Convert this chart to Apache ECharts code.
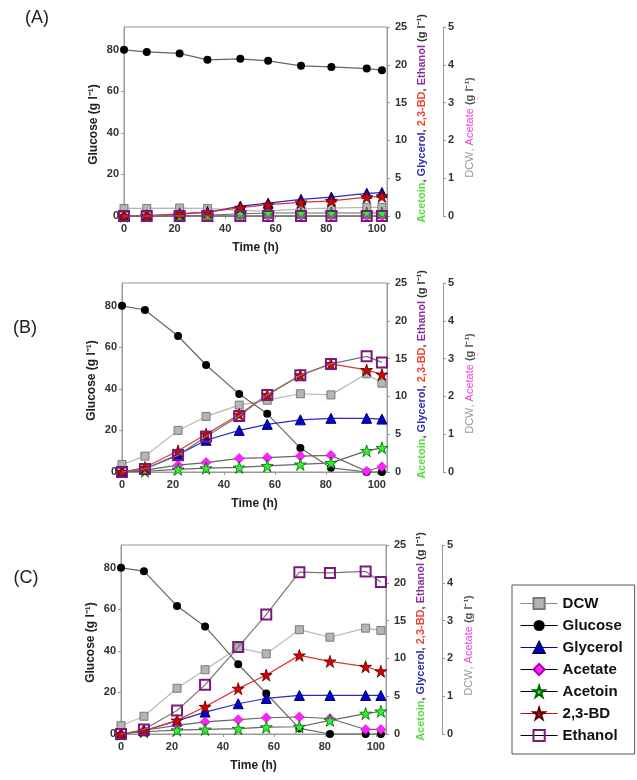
<!DOCTYPE html>
<html>
<head>
<meta charset="utf-8">
<script src="https://cdn.jsdelivr.net/npm/echarts@6/dist/echarts.min.js"></script>
<style>
  html, body { margin: 0; padding: 0; background: #fff; }
  #main { width: 637px; height: 780px; }
</style>
</head>
<body>
<div id="main"></div>
<script>
// 采样时间 (h)
const timeH = [0, 9, 22, 33, 46, 57, 70, 82, 96, 102];
const panelLabels = ['(A)', '(B)', '(C)'];
const seriesNames = ['DCW', 'Glucose', 'Glycerol', 'Acetate', 'Acetoin', '2,3-BD', 'Ethanol'];

// 刻度
const timeTicks = [0, 20, 40, 60, 80, 100];
const glucoseTicks = [0, 20, 40, 60, 80];

// (A)
const dcwA = [0.2, 0.2, 0.21, 0.2, 0.15, 0.13, 0.19, 0.21, 0.23, 0.23];
const glucoseA = [80, 79, 78.3, 75.2, 75.7, 74.7, 72.3, 71.8, 71, 70.2];
const glycerolA = [0, 0, 0.25, 0.5, 1.3, 1.7, 2.2, 2.5, 3.0, 3.1];
const acetateA = [0, 0, 0, 0, 0, 0, 0, 0, 0, 0];
const acetoinA = [0, 0, 0, 0.1, 0.3, 0.4, 0.4, 0.4, 0.4, 0.4];
const bdA = [0, 0.05, 0.3, 0.5, 1.1, 1.5, 1.8, 2.0, 2.5, 2.6];
const ethanolA = [0, 0, 0, 0, 0, 0, 0, 0, 0, 0];

// (B)
const dcwB = [0.2, 0.42, 1.1, 1.47, 1.77, 1.9, 2.07, 2.04, 2.6, 2.35];
const glucoseB = [80, 78, 65.5, 51.5, 37.5, 28, 11.5, 2, 0, 0];
const glycerolB = [0, 0.4, 2.3, 4.2, 5.5, 6.3, 6.9, 7.1, 7.1, 7.0];
const acetateB = [0, 0.05, 0.18, 0.25, 0.36, 0.38, 0.42, 0.44, 0.02, 0.14];
const acetoinB = [0, 0.1, 0.35, 0.5, 0.6, 0.8, 1.0, 1.2, 2.8, 3.2];
const bdB = [0, 0.6, 2.8, 5.0, 7.6, 10.2, 12.8, 14.3, 13.5, 12.9];
const ethanolB = [0, 0.4, 2.2, 4.7, 7.4, 10.2, 12.8, 14.3, 15.3, 14.5];

// (C)
const dcwC = [0.22, 0.47, 1.21, 1.7, 2.28, 2.12, 2.76, 2.56, 2.8, 2.74];
const glucoseC = [80, 78.4, 61.6, 51.8, 33.6, 19.5, 2.7, 0, 0, 0];
const glycerolC = [0, 0.43, 1.74, 2.9, 4.0, 4.7, 5.1, 5.1, 5.1, 5.1];
const acetateC = [0, 0.1, 0.23, 0.32, 0.38, 0.43, 0.45, 0.41, 0.12, 0.12];
const acetoinC = [0, 0.3, 0.5, 0.6, 0.7, 0.9, 0.96, 1.8, 2.7, 3.0];
const bdC = [0, 0.43, 1.8, 3.6, 6.0, 7.8, 10.4, 9.6, 8.9, 8.3];
const ethanolC = [0, 0.6, 3.1, 6.5, 11.5, 15.8, 21.4, 21.3, 21.5, 20.1];

const panelData = [
    [dcwA, glucoseA, glycerolA, acetateA, acetoinA, bdA, ethanolA],
    [dcwB, glucoseB, glycerolB, acetateB, acetoinB, bdB, ethanolB],
    [dcwC, glucoseC, glycerolC, acetateC, acetoinC, bdC, ethanolC]
];

const FONT = '"Liberation Sans", Arial, sans-serif';
const STAR = 'path://M0,-10L2.25,-3.09L9.51,-3.09L3.63,1.18L5.88,8.09L0,3.82L-5.88,8.09L-3.63,1.18L-9.51,-3.09L-2.25,-3.09Z';

// 每个系列的样式: axis 0 = 葡萄糖轴, 1 = 0-25 轴, 2 = 0-5 轴
const styles = {
    'DCW':      { axis: 2, symbol: 'rect', size: 8, fill: '#b5b5b5', border: '#7a7a7a', bw: 1, line: '#b8b8b8', legendLine: '#888' },
    'Glucose':  { axis: 0, symbol: 'circle', size: 8, fill: '#000', border: '#000', bw: 0, line: '#666', legendLine: '#000' },
    'Glycerol': { axis: 1, symbol: 'triangle', size: 10, fill: '#0000d0', border: '#000066', bw: 1, line: '#2a2ac8', legendLine: '#0000d0' },
    'Acetate':  { axis: 2, symbol: 'diamond', size: 10, fill: '#ff22ff', border: '#aa00aa', bw: 0.5, line: '#666', legendLine: '#000' },
    'Acetoin':  { axis: 1, symbol: STAR, size: 12, fill: '#33ee33', border: '#006600', bw: 0.8, line: '#666', legendLine: '#000' },
    '2,3-BD':   { axis: 1, symbol: STAR, size: 12, fill: '#dd0000', border: '#550000', bw: 0.8, line: '#e03333', legendLine: '#e00000' },
    'Ethanol':  { axis: 1, symbol: 'rect', size: 10, fill: 'rgba(255,255,255,0)', border: '#7a1a7a', bw: 2, line: '#777', legendLine: '#000' }
};

const grids = [
    { left: 124, top: 27, width: 263, height: 189 },
    { left: 122, top: 283, width: 265, height: 189 },
    { left: 121, top: 545, width: 265, height: 189 }
];
const labelPos = [[37, 18], [25, 328], [26, 578]];
const glucoseMax = [91, 91, 91];

function initChart() {
    const chart = echarts.init(document.getElementById('main'));
    const xAxes = [];
    const yAxes = [];
    const series = [];
    const graphics = [];

    const tickLabel = { fontFamily: FONT, fontSize: 11, fontWeight: 'bold', color: '#333' };
    const axisLine = { show: true, lineStyle: { color: '#999', width: 1 } };
    const axisTick = { show: true, inside: false, length: 3, lineStyle: { color: '#999' } };

    grids.forEach((g, p) => {
        xAxes.push({
            type: 'value', gridIndex: p, min: 0, max: 104,
            axisLine: axisLine,
            axisTick: Object.assign({ customValues: timeTicks }, axisTick),
            axisLabel: Object.assign({ customValues: timeTicks, margin: 7 }, tickLabel),
            splitLine: { show: false }
        });
        // 葡萄糖
        yAxes.push({
            type: 'value', gridIndex: p, position: 'left', min: 0, max: glucoseMax[p],
            axisLine: axisLine,
            axisTick: Object.assign({ customValues: glucoseTicks }, axisTick),
            axisLabel: Object.assign({ customValues: glucoseTicks, margin: 5 }, tickLabel),
            splitLine: { show: false }
        });
        // Acetoin, Glycerol, 2,3-BD, Ethanol
        yAxes.push({
            type: 'value', gridIndex: p, position: 'right', min: 0, max: 25, interval: 5,
            axisLine: axisLine, axisTick: axisTick,
            axisLabel: Object.assign({ margin: 8 }, tickLabel),
            splitLine: { show: false }
        });
        // DCW, Acetate
        yAxes.push({
            type: 'value', gridIndex: p, position: 'right', offset: 56, min: 0, max: 5, interval: 1,
            axisLine: axisLine, axisTick: axisTick,
            axisLabel: Object.assign({ margin: 5 }, tickLabel),
            splitLine: { show: false }
        });

        seriesNames.forEach((name, i) => {
            const s = styles[name];
            const vals = panelData[p][i];
            series.push({
                name: name,
                type: 'line',
                xAxisIndex: p,
                yAxisIndex: p * 3 + s.axis,
                data: timeH.map((t, k) => [t, vals[k]]),
                symbol: s.symbol,
                symbolSize: s.size,
                showAllSymbol: true,
                clip: false,
                z: 2 + i,
                lineStyle: { color: s.line, width: 1.2 },
                itemStyle: { color: s.fill, borderColor: s.border, borderWidth: s.bw },
                emphasis: { disabled: true }
            });
        });

        const cx = g.left + g.width / 2;
        const cy = g.top + g.height / 2;
        const right = g.left + g.width;

        graphics.push({
            type: 'text', x: labelPos[p][0], y: labelPos[p][1],
            style: { text: panelLabels[p], fontSize: 18, fontFamily: FONT, fill: '#222', align: 'center', verticalAlign: 'middle' }
        });
        graphics.push({
            type: 'text', x: g.left - 30, y: cy + 3, rotation: Math.PI / 2,
            style: { text: 'Glucose (g l⁻¹)', fontSize: 12, fontWeight: 'bold', fontFamily: FONT, fill: '#222', align: 'center', verticalAlign: 'middle' }
        });
        graphics.push({
            type: 'text', x: cx, y: g.top + g.height + 32,
            style: { text: 'Time (h)', fontSize: 12, fontWeight: 'bold', fontFamily: FONT, fill: '#222', align: 'center', verticalAlign: 'middle' }
        });
        graphics.push({
            type: 'text', x: right + 35, y: cy - 3, rotation: Math.PI / 2,
            style: {
                text: '{g|Acetoin}, {b|Glycerol}, {r|2,3-BD}, {p|Ethanol} (g l⁻¹)',
                fontSize: 11, fontWeight: 'bold', fontFamily: FONT, fill: '#333',
                align: 'center', verticalAlign: 'middle',
                rich: {
                    g: { fill: '#55dd44', fontSize: 11, fontWeight: 'bold', fontFamily: FONT },
                    b: { fill: '#2b2ba8', fontSize: 11, fontWeight: 'bold', fontFamily: FONT },
                    r: { fill: '#ee4433', fontSize: 11, fontWeight: 'bold', fontFamily: FONT },
                    p: { fill: '#8a2f9e', fontSize: 11, fontWeight: 'bold', fontFamily: FONT }
                }
            }
        });
        graphics.push({
            type: 'text', x: right + 83, y: cy + 6, rotation: Math.PI / 2,
            style: {
                text: '{d|DCW}, {a|Acetate} {u|(g l⁻¹)}',
                fontSize: 11, fontFamily: FONT, fill: '#999',
                align: 'center', verticalAlign: 'middle',
                rich: {
                    d: { fill: '#999', fontSize: 11, fontFamily: FONT },
                    a: { fill: '#ee44dd', fontSize: 11, fontFamily: FONT },
                    u: { fill: '#555', fontSize: 11, fontWeight: 'bold', fontFamily: FONT }
                }
            }
        });
    });

    const option = {
        animation: false,
        backgroundColor: '#fff',
        grid: grids.map(g => Object.assign({ show: true, borderColor: '#999', borderWidth: 1, backgroundColor: 'transparent' }, g)),
        xAxis: xAxes,
        yAxis: yAxes,
        legend: {
            orient: 'vertical',
            left: 512,
            top: 585,
            padding: [11, 12, 11, 8],
            itemWidth: 37,
            itemHeight: 14,
            itemGap: 7,
            borderColor: '#555',
            borderWidth: 1,
            backgroundColor: '#fff',
            selectedMode: false,
            textStyle: { fontFamily: FONT, fontSize: 15, fontWeight: 'bold', color: '#111' },
            data: seriesNames.map(name => ({
                name: name,
                lineStyle: { color: styles[name].legendLine, width: 1.2 }
            }))
        },
        graphic: graphics,
        series: series
    };
    chart.setOption(option);
}

document.addEventListener('DOMContentLoaded', initChart);
</script>
</body>
</html>
